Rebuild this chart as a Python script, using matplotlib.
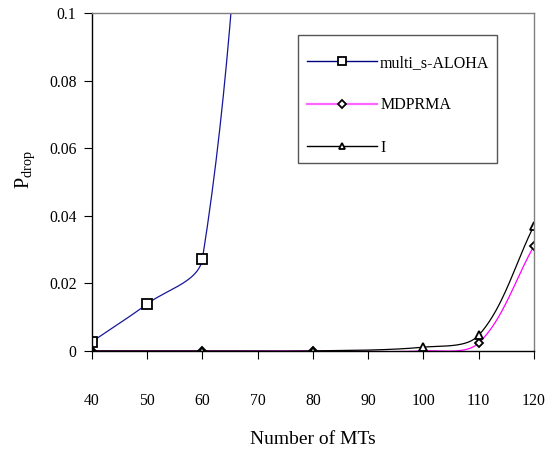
import numpy as np
import matplotlib.pyplot as plt
from matplotlib.patches import Rectangle

plt.rcParams['font.family'] = ['Liberation Serif', 'DejaVu Serif']
plt.rcParams['mathtext.fontset'] = 'custom'
plt.rcParams['mathtext.rm'] = 'Liberation Serif'
plt.rcParams['mathtext.it'] = 'Liberation Serif:italic'

# data
x_aloha = [40, 50, 60, 70, 80]
p_aloha = [0.0027, 0.0139, 0.0272, 0.22, 0.5]

x_mdprma = [40, 60, 80, 100, 110, 120]
p_mdprma = [0.0, 0.0, 0.0, 0.0, 0.0023, 0.031]

x_i = [40, 60, 80, 100, 110, 120]
p_i = [0.0, 0.0, 0.0, 0.0011, 0.0046, 0.037]

xticks = [40, 50, 60, 70, 80, 90, 100, 110, 120]
yticks = [0, 0.02, 0.04, 0.06, 0.08, 0.1]
ytick_labels = ['0', '0.02', '0.04', '0.06', '0.08', '0.1']


def smooth(xs, ys, sx=442 / 80.0, sy=338 / 0.1, n=40):
    # excel-like smoothed line: bezier with chord weighted tangents (in pixel space)
    P = np.column_stack([np.asarray(xs, float) * sx, np.asarray(ys, float) * sy])
    k = len(P)
    out = [P[:1]]
    for i in range(k - 1):
        a, b = P[i], P[i + 1]
        d = np.linalg.norm(b - a)
        if i == 0:
            ta = (b - a) / d
        else:
            ta = (b - P[i - 1]) / (np.linalg.norm(a - P[i - 1]) + d)
        if i + 1 == k - 1:
            tb = (b - a) / d
        else:
            tb = (P[i + 2] - a) / (np.linalg.norm(P[i + 2] - b) + d)
        c1 = a + ta * d / 3
        c2 = b - tb * d / 3
        t = np.linspace(0, 1, n)[1:, None]
        seg = (1 - t) ** 3 * a + 3 * (1 - t) ** 2 * t * c1 + 3 * (1 - t) * t ** 2 * c2 + t ** 3 * b
        out.append(seg)
    Q = np.vstack(out)
    return Q[:, 0] / sx, Q[:, 1] / sy


fig = plt.figure(figsize=(5.47, 4.51), dpi=100)
ax = fig.add_axes([0.168, 0.222, 0.808, 0.749])

blue = '#16169a'
mk = dict(markerfacecolor='white', markeredgecolor='black', markeredgewidth=1.3)

sx_, sy_ = smooth(x_aloha, p_aloha)
ax.plot(sx_, sy_, color=blue, lw=0.9)
ax.plot(x_aloha, p_aloha, ls='none', marker='s', ms=6.5, **mk)

sx_, sy_ = smooth(x_mdprma, p_mdprma)
ax.plot(sx_, sy_, color='#ff00ff', lw=0.9)
ax.plot(x_mdprma, p_mdprma, ls='none', marker='D', ms=4.5, **mk)

sx_, sy_ = smooth(x_i, p_i)
ax.plot(sx_, sy_, color='black', lw=0.9)
ax.plot(x_i, p_i, ls='none', marker='^', ms=6, **mk)

# legend
h1, = ax.plot([], [], color='#000080', lw=1.0, marker='s', ms=5.5, **mk)
h2, = ax.plot([], [], color='#ff66ff', lw=1.6, marker='D', ms=4.2, **mk)
h3, = ax.plot([], [], color='black', lw=1.0, marker='^', ms=5, **mk)
leg = ax.legend([h1, h2, h3], ['multi_s-ALOHA', 'MDPRMA', 'I'],
                loc='upper left', bbox_to_anchor=(0.486, 0.877),
                fontsize=11.5, frameon=False, handlelength=4.4,
                labelspacing=1.67, borderpad=0, handletextpad=0.2,
                borderaxespad=0)
ax.add_patch(Rectangle((0.466, 0.556), 0.450, 0.379, transform=ax.transAxes,
                       facecolor='none', edgecolor='#555555', lw=1.0, zorder=5))

ax.set_xlim(40, 120)
ax.set_ylim(0, 0.1)
ax.set_xticks(xticks)
ax.set_yticks(yticks)
ax.set_yticklabels(ytick_labels)
ax.tick_params(axis='x', direction='out', length=6, pad=24, labelsize=11.3)
ax.tick_params(axis='y', direction='out', length=6, pad=5, labelsize=11.3)
for s in ['top', 'right']:
    ax.spines[s].set_color('#808080')
    ax.spines[s].set_linewidth(1.0)
for s in ['left', 'bottom']:
    ax.spines[s].set_color('black')
    ax.spines[s].set_linewidth(1.0)

ax.set_xlabel('Number of MTs', fontsize=14, labelpad=16)
ax.set_ylabel(r'P$_{\mathrm{drop}}$', fontsize=14.5)
ax.yaxis.set_label_coords(-0.125, 0.535)

fig.savefig('out.png', dpi=100)
